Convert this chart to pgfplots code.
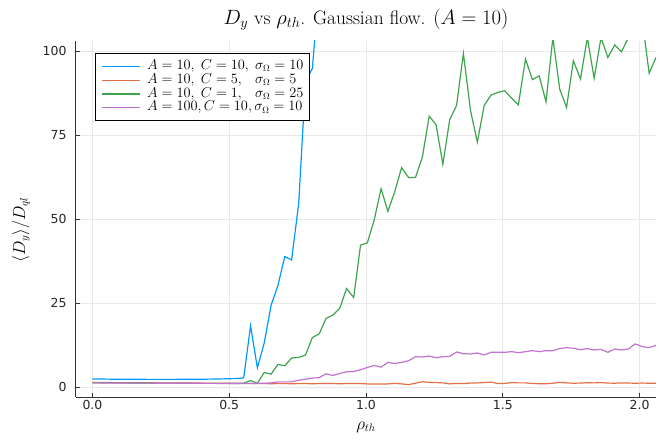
\documentclass[border=0pt]{standalone}
\usepackage{fontspec}
\usepackage{pgfplots}
\pgfplotsset{compat=1.18}
\newfontfamily\tickfont{DejaVu Sans}
\definecolor{jblue}{RGB}{0,154,250}
\definecolor{jorange}{RGB}{227,111,71}
\definecolor{jgreen}{RGB}{62,164,78}
\definecolor{jpurple}{RGB}{195,113,210}
\pgfplotsset{legend image code/.code={\draw[#1, line width=1.2bp] (0bp,0bp) -- (38bp,0bp); \path (44bp,0bp);}}
\begin{document}
\begin{tikzpicture}
\begin{axis}[
  scale only axis,
  width=580bp, height=356bp,
  xmin=-0.06, xmax=2.06, ymin=-3, ymax=103,
  axis x line*=bottom, axis y line*=left,
  axis line style={-, black!80, line width=1bp},
  xtick={0,0.5,1,1.5,2}, ytick={0,25,50,75,100},
  xticklabel style={/pgf/number format/.cd, fixed, fixed zerofill, precision=1},
  yticklabel style={xshift=-6bp},
  tick label style={font=\fontsize{12.5}{14}\tickfont, text=black!85},
  /pgf/number format/assume math mode=true,
  tick align=inside, major tick length=4bp,
  tick style={black!80, line width=0.8bp},
  grid=major, major grid style={black!9, line width=0.6bp},
  title={$D_y$ vs $\rho_{th}$. Gaussian flow. $(A = 10)$},
  title style={font=\fontsize{19.5}{23}\selectfont, yshift=1bp},
  xlabel={$\rho_{th}$}, ylabel={$\langle D_y\rangle / D_{ql}$},
  label style={font=\fontsize{16}{19}\selectfont},
  xlabel style={yshift=-5bp},
  ylabel style={at={(axis description cs:-0.095,0.47)}, anchor=center},
  legend style={at={(axis description cs:0.033,0.966)}, anchor=north west, draw=black, line width=0.9bp, fill=white, font=\fontsize{13.5}{14}\selectfont, row sep=0bp, inner sep=6bp, nodes={inner sep=0.4bp, text height=9.6bp, text depth=3.4bp}},
  legend cell align=left,
  every axis plot/.append style={line width=1.2bp},
]
\addplot[jblue] coordinates {
(0.000,2.35)(0.025,2.35)(0.050,2.33)(0.075,2.3)(0.100,2.3)(0.126,2.3)(0.151,2.28)(0.176,2.27)(0.201,2.25)(0.226,2.25)
(0.251,2.25)(0.276,2.25)(0.301,2.25)(0.327,2.27)(0.352,2.28)(0.377,2.3)(0.402,2.3)(0.427,2.32)(0.452,2.35)(0.477,2.4)
(0.502,2.45)(0.528,2.5)(0.553,2.7)(0.578,18.2)(0.603,5.7)(0.628,13.1)(0.653,24.3)(0.678,30.2)(0.703,38.8)(0.728,37.8)
(0.754,54.6)(0.779,91)(0.804,94.8)(0.829,120)(0.854,150)
};
\addlegendentry{$A=10,\;C=10,\;\sigma_\Omega=10$}
\addplot[jorange] coordinates {
(0.000,1.3)(0.025,1.3)(0.050,1.3)(0.075,1.28)(0.100,1.27)(0.126,1.26)(0.151,1.25)(0.176,1.24)(0.201,1.23)(0.226,1.22)
(0.251,1.2)(0.276,1.2)(0.301,1.18)(0.327,1.17)(0.352,1.16)(0.377,1.15)(0.402,1.14)(0.427,1.13)(0.452,1.12)(0.477,1.11)
(0.502,1.1)(0.528,1.1)(0.553,1.05)(0.578,1.05)(0.603,1.0)(0.628,1.0)(0.653,0.95)(0.678,1.0)(0.703,1.0)(0.728,0.95)
(0.754,1.0)(0.779,1.0)(0.804,0.95)(0.829,1.0)(0.854,1.0)(0.879,1.0)(0.904,0.95)(0.929,1.0)(0.955,1.0)(0.980,1.0)
(1.005,0.9)(1.030,0.85)(1.055,0.9)(1.080,0.9)(1.105,1.05)(1.130,0.9)(1.156,0.7)(1.181,1.1)(1.206,1.55)(1.231,1.35)
(1.256,1.3)(1.281,1.2)(1.306,0.9)(1.331,1.05)(1.356,1.0)(1.382,1.15)(1.407,1.2)(1.432,1.3)(1.457,1.45)(1.482,1.0)
(1.507,1.05)(1.532,1.3)(1.557,1.2)(1.583,1.2)(1.608,1.05)(1.633,0.95)(1.658,0.95)(1.683,1.1)(1.708,1.35)(1.733,1.2)
(1.758,1.1)(1.784,1.15)(1.809,1.25)(1.834,1.2)(1.859,1.3)(1.884,1.15)(1.909,1.1)(1.934,1.2)(1.959,1.15)(1.984,1.1)
(2.010,1.15)(2.035,1.1)(2.060,1.1)
};
\addlegendentry{$A=10,\;C=5,\phantom{0}\;\sigma_\Omega=5$}
\addplot[jgreen] coordinates {
(0.000,1.2)(0.025,1.2)(0.050,1.2)(0.075,1.2)(0.100,1.2)(0.126,1.2)(0.151,1.15)(0.176,1.15)(0.201,1.15)(0.226,1.1)
(0.251,1.1)(0.276,1.1)(0.301,1.1)(0.327,1.1)(0.352,1.1)(0.377,1.05)(0.402,1.05)(0.427,1.05)(0.452,1.05)(0.477,1.05)
(0.502,1.05)(0.528,1.0)(0.553,1.1)(0.578,1.9)(0.603,1.1)(0.628,4.3)(0.653,3.8)(0.678,6.7)(0.703,6.3)(0.728,8.6)
(0.754,8.8)(0.779,9.5)(0.804,14.7)(0.829,15.8)(0.854,20.4)(0.879,21.4)(0.904,23.4)(0.929,29.3)(0.955,26.6)(0.980,42.2)
(1.005,42.9)(1.030,49.7)(1.055,59.0)(1.080,52.3)(1.105,58.1)(1.130,65.3)(1.156,62.3)(1.181,62.4)(1.206,68.4)(1.231,80.6)
(1.256,78.1)(1.281,66.3)(1.306,79.6)(1.331,83.8)(1.356,99.3)(1.382,82.3)(1.407,72.9)(1.432,83.8)(1.457,86.9)(1.482,87.7)
(1.507,88.2)(1.532,86.0)(1.557,84.0)(1.583,97.6)(1.608,91.5)(1.633,92.6)(1.658,84.9)(1.683,104)(1.708,88.7)(1.733,83.2)
(1.758,97.1)(1.784,91.7)(1.809,104)(1.834,91.9)(1.859,104)(1.884,98.1)(1.909,101.8)(1.934,99.8)(1.959,104)(1.984,111)
(2.010,109)(2.035,93.4)(2.060,98.1)
};
\addlegendentry{$A=10,\;C=1,\phantom{0}\;\sigma_\Omega=25$}
\addplot[jpurple] coordinates {
(0.000,1.2)(0.025,1.2)(0.050,1.19)(0.075,1.18)(0.100,1.17)(0.126,1.16)(0.151,1.15)(0.176,1.14)(0.201,1.13)(0.226,1.12)
(0.251,1.11)(0.276,1.1)(0.301,1.1)(0.327,1.09)(0.352,1.08)(0.377,1.07)(0.402,1.06)(0.427,1.05)(0.452,1.05)(0.477,1.04)
(0.502,1.03)(0.528,1.0)(0.553,1.0)(0.578,1.0)(0.603,1.05)(0.628,1.1)(0.653,1.2)(0.678,1.5)(0.703,1.5)(0.728,1.5)
(0.754,2.0)(0.779,2.3)(0.804,2.6)(0.829,2.8)(0.854,3.9)(0.879,3.4)(0.904,4.0)(0.929,4.5)(0.955,4.6)(0.980,5.1)
(1.005,5.8)(1.030,6.4)(1.055,5.9)(1.080,7.3)(1.105,7.0)(1.130,7.3)(1.156,7.8)(1.181,9.0)(1.206,8.9)(1.231,9.2)
(1.256,8.7)(1.281,9.0)(1.306,9.1)(1.331,10.4)(1.356,9.9)(1.382,9.8)(1.407,10.1)(1.432,9.5)(1.457,10.3)(1.482,10.3)
(1.507,10.3)(1.532,10.5)(1.557,10.2)(1.583,10.5)(1.608,10.8)(1.633,10.5)(1.658,10.8)(1.683,10.8)(1.708,11.4)(1.733,11.7)
(1.758,11.5)(1.784,11.1)(1.809,11.4)(1.834,11.0)(1.859,11.2)(1.884,10.3)(1.909,11.3)(1.934,11.0)(1.959,11.3)(1.984,12.8)
(2.010,12.0)(2.035,11.7)(2.060,12.4)
};
\addlegendentry{$A=100, C=10, \sigma_\Omega=10$}
\end{axis}
\path (current axis.south west) ++(-76bp,-43bp) rectangle ([shift={(6bp,41bp)}]current axis.north east);
\end{tikzpicture}
\end{document}
